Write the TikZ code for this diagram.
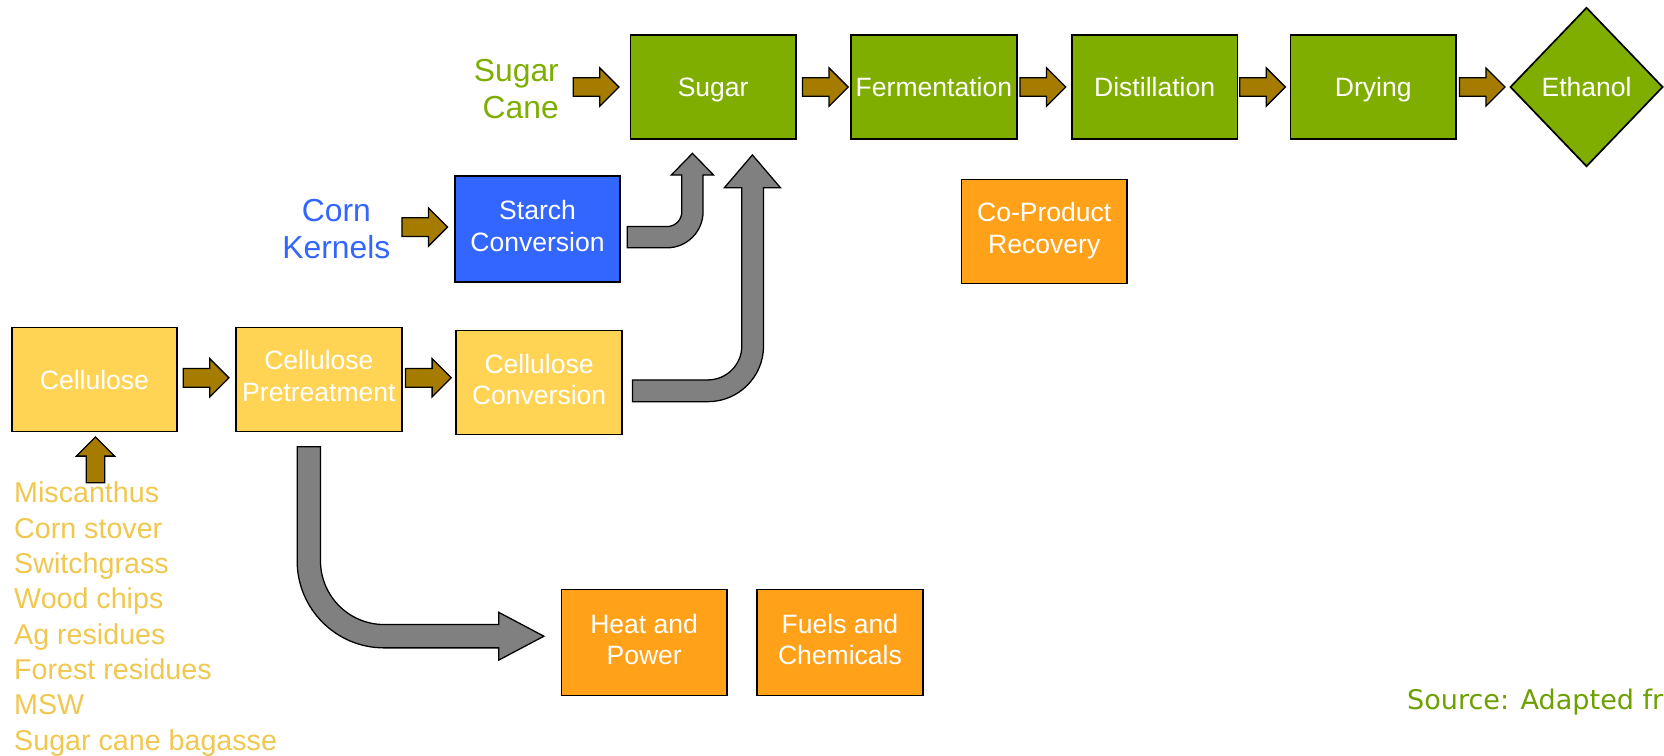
\documentclass[tikz,border=0pt]{standalone}
\usepackage{fontspec}
\setmainfont{Liberation Sans}
\newfontfamily\srcfont{DejaVu Sans}
\usetikzlibrary{shapes.geometric,calc}
\definecolor{cgreen}{HTML}{7FAE00}
\definecolor{cblue}{HTML}{3366FF}
\definecolor{cyellow}{HTML}{FFD455}
\definecolor{corange}{HTML}{FFA119}
\definecolor{cbrown}{HTML}{A67C00}
\definecolor{cgray}{HTML}{808080}
\definecolor{clist}{HTML}{F0C850}
\definecolor{csrc}{HTML}{6FA000}
\begin{document}
\begin{tikzpicture}[x=0.5pt,y=-0.5pt,
  box/.style={draw=black, line width=0.8pt, minimum width=78pt, minimum height=49pt,
    inner sep=0pt, text=white, align=center, font=\fontsize{12.5}{15}\selectfont, text depth=0pt},
  twoline/.style={text depth=3pt},
  lbl/.style={inner sep=0pt, font=\fontsize{15}{17.25}\selectfont},
  garrow/.style={fill=cgray, draw=black, line width=0.6pt, line join=miter},
  brarrow/.pic={\draw[fill=cbrown, line width=0.6pt, line join=miter]
    (0,0) -- (-18,-18) -- (-18,-8.8) -- (-43,-8.8) -- (-43,8.8) -- (-18,8.8) -- (-18,18) -- cycle;}
]
\path[use as bounding box, fill=white] (0,0) rectangle (1568,712);
\clip (0,0) rectangle (1568,712);

% top row
\node[box, fill=cgreen] (sugar) at (672,82) {Sugar};
\node[box, fill=cgreen] (ferm) at (880,82) {Fermentation};
\node[box, fill=cgreen] (dist) at (1088,82) {Distillation};
\node[box, fill=cgreen] (dry) at (1294,82) {Drying};
\node[box, fill=cgreen, diamond, minimum width=72pt, minimum height=75pt] (eth) at (1495,82) {Ethanol};

% middle
\node[box, twoline, fill=cblue, minimum height=50pt] (starch) at (506.5,216) {Starch\\Conversion};
\node[box, twoline, fill=corange] (coprod) at (984,218) {Co-Product\\Recovery};

% cellulose row
\node[box, fill=cyellow] (cell) at (89,357.5) {Cellulose};
\node[box, twoline, fill=cyellow] (pret) at (300.5,357.5) {Cellulose\\Pretreatment};
\node[box, twoline, fill=cyellow] (conv) at (508,360.5) {Cellulose\\Conversion};

% bottom
\node[box, twoline, fill=corange, minimum height=50pt] (heat) at (607,605.5) {Heat and\\Power};
\node[box, twoline, fill=corange, minimum height=50pt] (fuels) at (791.5,605.5) {Fuels and\\Chemicals};

% labels
\node[lbl, text=cgreen, align=right, anchor=base east] (cane) at (527,111.5) {Sugar\\Cane};
\node[lbl, text=cblue, align=center, anchor=base] (corn) at (317,243.5) {Corn\\Kernels};

\foreach \t [count=\i] in {Miscanthus,Corn stover,Switchgrass,Wood chips,Ag residues,Forest residues,MSW,Sugar cane bagasse}
  \node[anchor=base west, inner sep=0pt, text=clist, font=\fontsize{13.5}{16}\selectfont] (bio\i) at (13,{473.7+33.3*(\i-1)}) {\t};

\node[anchor=base west, inner sep=0pt, text=csrc, font=\srcfont\fontsize{12.75}{15}\selectfont] (src) at (1325.5,669) {Source: Adapted fr};

% brown arrows
\pic at ($(sugar.west)+(-10,0)$) {brarrow};
\pic at ($(ferm.west)+(-2,0)$) {brarrow};
\pic at ($(dist.west)+(-5,0)$) {brarrow};
\pic at ($(dry.west)+(-4,0)$) {brarrow};
\pic at ($(eth.west)+(-4,0)$) {brarrow};
\pic at ($(starch.west)+(-6,-2)$) {brarrow};
\pic at ($(pret.west)+(-6,-1.5)$) {brarrow};
\pic at ($(conv.west |- pret.east)+(-4,-1.5)$) {brarrow};
\pic[rotate=90] at ($(cell.south)+(1,4.5)$) {brarrow};

% gray bent arrows
\draw[garrow] (591,213.5) -- (628.5,213.5) arc[start angle=90,end angle=0,radius=14]
  -- (642.5,165) -- (632.5,165) -- (652.5,144.5) -- (672.5,165) -- (662.5,165)
  -- (662.5,199.5) arc[start angle=0,end angle=90,radius=34] -- (591,233.5) -- cycle;
\draw[garrow] (596,358) -- (667,358) arc[start angle=90,end angle=0,radius=32]
  -- (699,177) -- (682.5,177) -- (709,146) -- (735.5,177) -- (719.5,177)
  -- (719.5,326) arc[start angle=0,end angle=90,radius=52.5] -- (596,378.5) -- cycle;
\draw[garrow] (280,421) -- (302,421) -- (302,528.5) arc[start angle=180,end angle=90,radius=60]
  -- (470,588.5) -- (470,577) -- (512.5,599.5) -- (470,622) -- (470,610.5)
  -- (362,610.5) arc[start angle=90,end angle=180,radius=82] -- cycle;
\end{tikzpicture}
\end{document}
